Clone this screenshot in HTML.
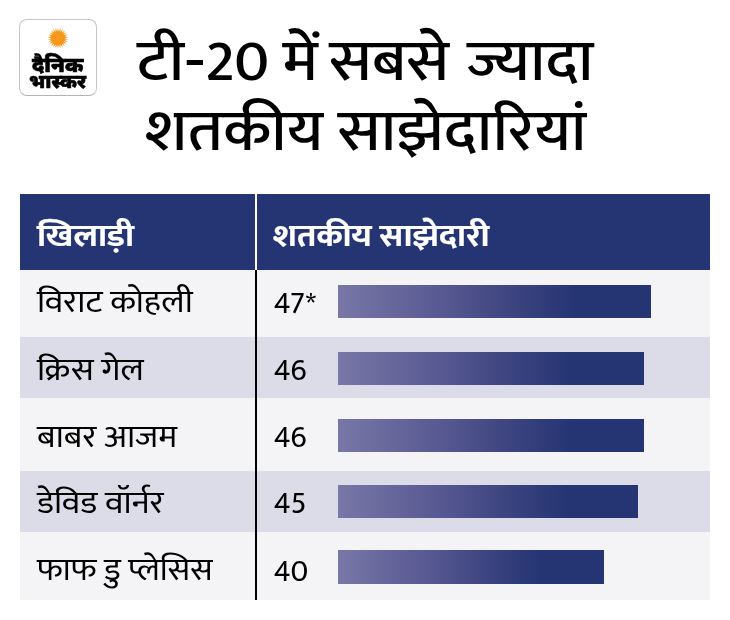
<!DOCTYPE html>
<html lang="hi">
<head>
<meta charset="utf-8">
<title>टी-20 में सबसे ज्यादा शतकीय साझेदारियां</title>
<style>
html,body{margin:0;padding:0;background:#fff;}
body{width:730px;height:620px;position:relative;overflow:hidden;
  font-family:"Mukta","Ek Mukta","FreeSans","Noto Sans Devanagari","Lohit Devanagari","Liberation Sans","DejaVu Sans",sans-serif;color:#000;}
.abs{position:absolute;}
.logo{left:19px;top:19px;width:76px;height:75px;border:1px solid #c6c6c6;border-bottom-color:#b4b4b4;border-radius:8px;background:#fff;box-sizing:content-box;}
.lg{position:absolute;font-family:"Noto Sans Devanagari","Mukta","Ek Mukta","FreeSans","Lohit Devanagari","Liberation Sans","DejaVu Sans",sans-serif;font-weight:900;font-size:19px;line-height:24px;white-space:nowrap;transform-origin:0 0;color:#000;-webkit-text-stroke:0.55px #000;}
.logo svg{position:absolute;left:0;top:0;}
.title{font-weight:500;font-size:58.5px;line-height:64px;white-space:nowrap;transform-origin:0 0;transform:scaleX(1.08);}
.t1{left:137.3px;top:31.3px;}
.t2{left:145px;top:101.2px;}
.hdr{left:20px;top:194px;width:690px;height:76px;background:#253574;}
.row{left:20px;width:690px;}
.r1{top:270px;height:67px;background:#f4f4f6;}
.r2{top:337px;height:61px;background:#dcdce8;}
.r3{top:398px;height:72.5px;background:#f4f4f6;}
.r4{top:470.5px;height:61px;background:#dcdce8;}
.r5{top:531.5px;height:68.5px;background:#f4f4f6;}
.vw{left:255px;top:194px;width:2px;height:76px;background:#fff;}
.vb{left:255px;top:270px;width:2px;height:330px;background:#000;}
.h{color:#fff;-webkit-text-stroke:0.22px #fff;font-weight:700;font-size:31.8px;line-height:40px;white-space:nowrap;transform-origin:0 0;transform:scaleX(1.082);}
.n{font-size:32.3px;line-height:40px;white-space:nowrap;font-weight:400;transform-origin:0 0;transform:scaleX(1.06);}
.bar{left:338px;height:33px;background:linear-gradient(90deg,#7877a7 0%,#5c5c95 30%,#3e4580 55%,#253574 76%,#253574 100%);}
.d{font-size:30.3px;line-height:40px;white-space:nowrap;font-weight:400;transform-origin:0 0;transform:scaleX(1.02);}
</style>
</head>
<body>
<div class="abs logo">
<svg width="76" height="75" viewBox="0 0 76 75"><polygon fill="#f7971e" points="38.00,7.80 38.82,11.45 40.49,8.10 40.41,11.84 42.83,8.99 41.86,12.60 44.90,10.42 43.09,13.69 46.56,12.29 44.02,15.04 47.72,14.51 44.60,16.57 48.32,16.95 44.80,18.20 48.32,19.45 44.60,19.83 47.72,21.89 44.02,21.36 46.56,24.11 43.09,22.71 44.90,25.98 41.86,23.80 42.83,27.41 40.41,24.56 40.49,28.30 38.82,24.95 38.00,28.60 37.18,24.95 35.51,28.30 35.59,24.56 33.17,27.41 34.14,23.80 31.10,25.98 32.91,22.71 29.44,24.11 31.98,21.36 28.28,21.89 31.40,19.83 27.68,19.45 31.20,18.20 27.68,16.95 31.40,16.57 28.28,14.51 31.98,15.04 29.44,12.29 32.91,13.69 31.10,10.42 34.14,12.60 33.17,8.99 35.59,11.84 35.51,8.10 37.18,11.45"/></svg>
<div class="lg" style="left:11.6px;top:35.4px;font-size:20.4px;transform:scaleX(1.04);">दैनिक</div>
<div class="lg" style="left:9.1px;top:51px;font-size:19.7px;transform:scaleX(0.99);">भास्कर</div>
</div>
<div class="abs title t1">टी<span style="display:inline-block;transform:scaleX(1.17);transform-origin:0 50%;margin-right:2.2px">-</span><span style="display:inline-block;transform:scaleX(0.95);transform-origin:100% 50%;margin-left:-3px">20</span> में <span style="position:relative;left:-3px">सबसे</span> ज्यादा</div>
<div class="abs title t2" style="transform:scaleX(1.086)">शतकीय साझेदारियां</div>

<div class="abs hdr"></div>
<div class="abs row r1"></div>
<div class="abs row r2"></div>
<div class="abs row r3"></div>
<div class="abs row r4"></div>
<div class="abs row r5"></div>
<div class="abs vw"></div>
<div class="abs vb"></div>

<div class="abs h" style="left:37.3px;top:216.8px;">खिलाड़ी</div>
<div class="abs h" style="left:273.2px;top:216.8px;transform:scaleX(1.072);">शतकीय साझेदारी</div>

<div class="abs n" style="left:36.7px;top:283.3px;">विराट कोहली</div>
<div class="abs n" style="left:36.7px;top:350.5px;">क्रिस गेल</div>
<div class="abs n" style="left:36.7px;top:418px;">बाबर आजम</div>
<div class="abs n" style="left:36.7px;top:484.4px;">डेविड वॉर्नर</div>
<div class="abs n" style="left:36.7px;top:551.2px;transform:scaleX(1.04);">फाफ डु प्लेसिस</div>

<div class="abs d" style="left:273.7px;top:283.9px;">47<span style="position:relative;top:2.4px;left:0.5px">*</span></div>
<div class="abs d" style="left:273.7px;top:350.8px;">46</div>
<div class="abs d" style="left:273.7px;top:417.6px;">46</div>
<div class="abs d" style="left:273.7px;top:484.4px;">45</div>
<div class="abs d" style="left:273.7px;top:552.2px;">40</div>

<div class="abs bar" style="top:285px;width:313px;"></div>
<div class="abs bar" style="top:352px;width:306px;"></div>
<div class="abs bar" style="top:419px;width:306px;"></div>
<div class="abs bar" style="top:485px;width:299.5px;"></div>
<div class="abs bar" style="top:550px;width:266px;height:34px;"></div>
</body>
</html>
